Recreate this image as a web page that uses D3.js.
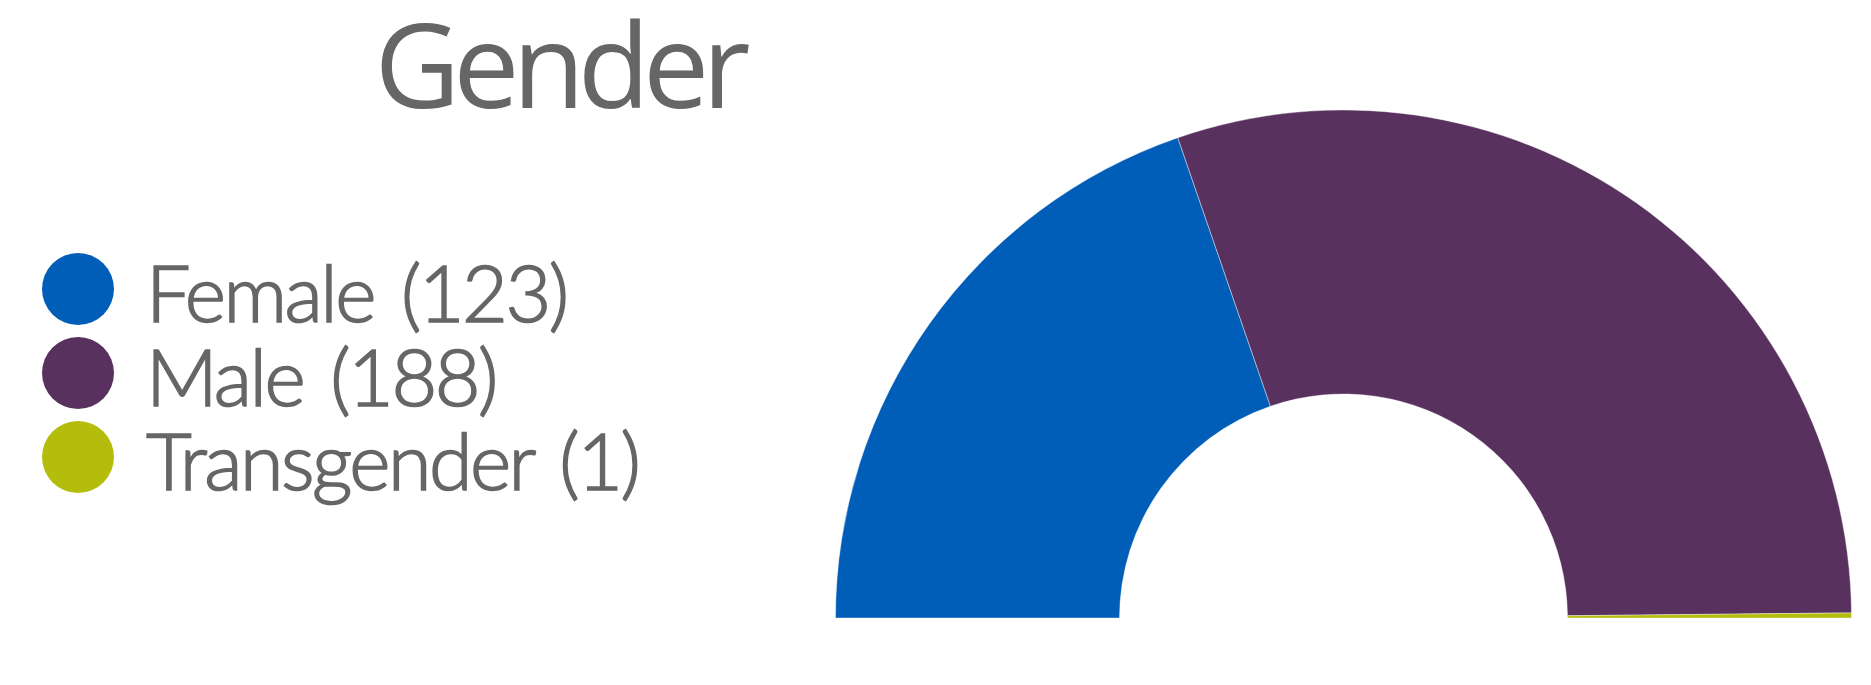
<!DOCTYPE html>
<html>
<head>
<meta charset="utf-8">
<script src="https://cdn.jsdelivr.net/npm/d3@7"></script>
<style>
  body { margin: 0; background: #fff; }
  svg { display: block; }
</style>
</head>
<body>
<svg id="chart"></svg>
<script>
// data
var categories = ["Female", "Male", "Transgender"];
var counts = [123, 188, 1];
var colors = ["#005EB8", "#59315F", "#B5BD0C"];
var chartTitle = "Gender";

var width = 1871, height = 685;

var svg = d3.select("svg#chart")
  .attr("width", width)
  .attr("height", height);

// title
svg.append("text")
  .attr("x", 559)
  .attr("y", 108)
  .attr("text-anchor", "middle")
  .style("font-family", "'Open Sans', sans-serif")
  .style("font-size", "118px")
  .style("letter-spacing", "-7px")
  .style("fill", "#666")
  .text(chartTitle);

// legend
var legend = svg.append("g")
  .attr("transform", "translate(78, 289)");

var item = legend.selectAll(".legend-item")
  .data(categories)
  .enter().append("g")
  .attr("class", "legend-item")
  .attr("transform", function (d, i) { return "translate(0," + (i * 84) + ")"; });

item.append("circle")
  .attr("r", 36)
  .attr("fill", function (d, i) { return colors[i]; });

item.append("text")
  .attr("x", 68)
  .attr("y", 33)
  .style("font-family", "Lato, 'Open Sans', sans-serif")
  .style("font-weight", 300)
  .style("font-size", "79px")
  .style("letter-spacing", "-2.5px")
  .style("word-spacing", "8px")
  .style("fill", "#666")
  .style("stroke", "#666")
  .style("stroke-width", "1.6px")
  .text(function (d, i) { return d + " (" + counts[i] + ")"; });

// half donut
var cx = 1343.5, cy = 618;
var outerR = 508, innerR = 224;

var pie = d3.pie()
  .sort(null)
  .startAngle(-Math.PI / 2)
  .endAngle(Math.PI / 2)
  .value(function (d) { return d; });

var arc = d3.arc()
  .innerRadius(innerR)
  .outerRadius(outerR);

svg.append("g")
  .attr("transform", "translate(" + cx + "," + cy + ")")
  .selectAll("path")
  .data(pie(counts))
  .enter().append("path")
  .attr("d", arc)
  .attr("fill", function (d, i) { return colors[i]; })
  .attr("stroke", "#fff")
  .attr("stroke-width", 0.4);
</script>
</body>
</html>
